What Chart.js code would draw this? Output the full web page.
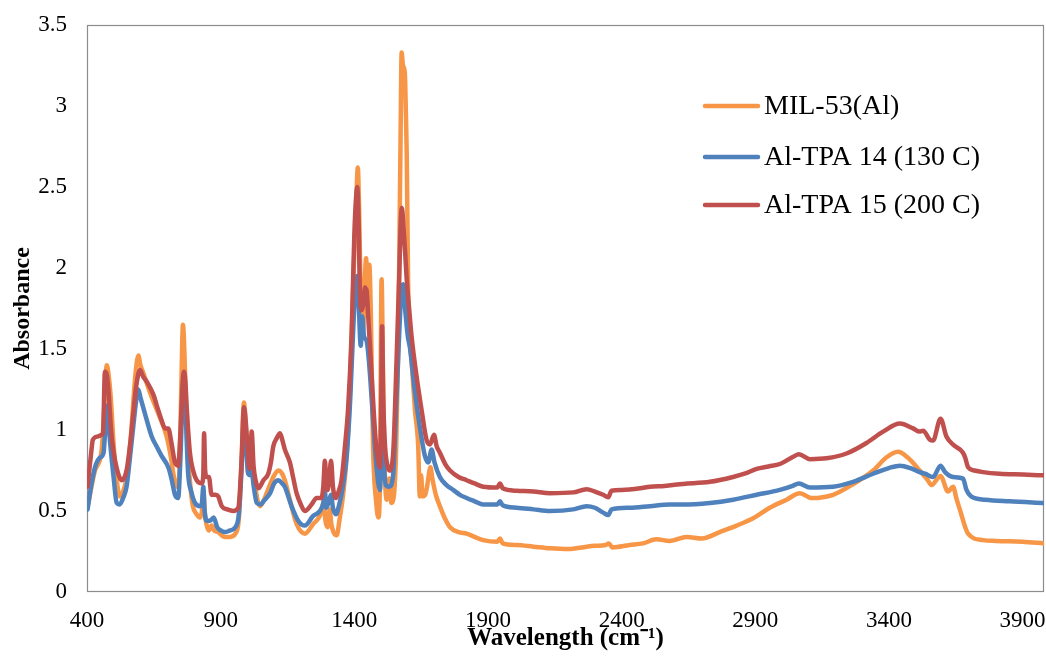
<!DOCTYPE html>
<html>
<head>
<meta charset="utf-8">
<script src="https://cdn.jsdelivr.net/npm/chart.js@4/dist/chart.umd.min.js"></script>
<style>
  html, body { margin: 0; padding: 0; background: #ffffff; }
  canvas { display: block; }
</style>
</head>
<body>
<canvas id="ir" width="1046" height="657"></canvas>
<script>
// FTIR absorbance spectra (wavenumber in cm-1, absorbance)
const seriesLabels = ['MIL-53(Al)', 'Al-TPA 14 (130 C)', 'Al-TPA 15 (200 C)'];
const xTickValues = [400, 900, 1400, 1900, 2400, 2900, 3400, 3900];
const yTickValues = [0, 0.5, 1, 1.5, 2, 2.5, 3, 3.5];

const milWavenumber = [402,430,455,465,474,480,488,500,512,523,535,550,565,580,592,600,611,636,667,698,715,723,735,745,752,759,765,772,778,787,796,810,823,830,836,840,848,856,866,876,890,916,935,955,968,978,987,995,1003,1012,1018,1029,1047,1060,1072,1097,1116,1130,1140,1159,1184,1215,1246,1271,1280,1286,1291,1300,1308,1314,1322,1334,1345,1358,1372,1385,1398,1408,1413,1418,1425,1432,1440,1444,1449,1456,1462,1470,1482,1490,1496,1502,1507,1513,1521,1527,1531,1538,1544,1550,1556,1563,1568,1573,1577,1582,1589,1593,1596,1602,1614,1627,1639,1645,1650,1655,1665,1672,1685,1692,1705,1720,1740,1758,1790,1820,1850,1882,1935,1945,1955,2007,2070,2132,2200,2269,2300,2340,2352,2365,2430,2480,2530,2580,2643,2700,2767,2830,2892,2954,3017,3067,3110,3191,3260,3341,3390,3434,3470,3515,3545,3559,3593,3621,3640,3652,3665,3696,3752,3800,3900,3980];
const milAbsorbance = [0.52,0.75,0.88,1.15,1.40,1.35,1.22,0.90,0.68,0.59,0.62,0.72,0.98,1.32,1.46,1.40,1.35,1.23,1.10,0.96,0.82,0.73,0.65,0.72,1.20,1.65,1.45,1.05,0.84,0.65,0.53,0.48,0.46,0.50,0.62,0.50,0.41,0.38,0.41,0.38,0.37,0.34,0.34,0.36,0.45,0.80,1.17,1.00,0.73,0.85,0.80,0.65,0.53,0.56,0.61,0.71,0.75,0.73,0.69,0.57,0.42,0.36,0.42,0.47,0.52,0.56,0.45,0.40,0.51,0.42,0.37,0.35,0.45,0.60,0.85,1.30,2.00,2.45,2.62,2.35,1.75,1.60,1.95,2.06,1.90,2.02,1.70,0.90,0.55,0.46,0.70,1.93,1.40,0.80,0.57,0.68,0.70,0.55,0.56,0.63,0.85,1.40,2.04,2.80,3.33,3.25,3.20,2.95,2.71,1.80,1.43,1.12,0.90,0.59,0.72,0.59,0.60,0.65,0.77,0.70,0.60,0.53,0.45,0.40,0.37,0.36,0.34,0.32,0.31,0.33,0.30,0.29,0.28,0.27,0.265,0.28,0.285,0.29,0.30,0.275,0.29,0.30,0.325,0.315,0.34,0.33,0.37,0.41,0.455,0.52,0.57,0.61,0.58,0.60,0.66,0.75,0.83,0.865,0.83,0.75,0.69,0.66,0.716,0.62,0.65,0.58,0.51,0.36,0.32,0.315,0.31,0.30];

const tpa14Wavenumber = [402,415,430,449,462,468,474,480,486,500,511,522,535,548,560,573,583,592,600,617,642,660,679,704,716,729,741,750,757,763,768,778,790,804,823,830,835,840,848,860,874,887,900,916,935,955,968,978,987,995,1003,1012,1016,1023,1035,1050,1060,1085,1100,1116,1130,1140,1165,1190,1215,1246,1271,1284,1290,1295,1303,1313,1320,1331,1345,1358,1372,1385,1398,1406,1411,1416,1424,1430,1436,1446,1455,1465,1483,1496,1500,1504,1509,1518,1531,1545,1558,1568,1576,1583,1590,1600,1608,1627,1645,1664,1677,1689,1700,1720,1745,1770,1795,1820,1850,1882,1935,1945,1955,2007,2070,2132,2219,2269,2300,2331,2350,2362,2430,2506,2580,2630,2730,2817,2905,2992,3040,3063,3104,3191,3266,3341,3400,3441,3480,3515,3535,3565,3593,3610,3640,3677,3690,3707,3760,3850,3980];
const tpa14Absorbance = [0.51,0.65,0.77,0.83,0.86,1.00,1.15,1.05,0.93,0.70,0.55,0.54,0.58,0.65,0.82,1.02,1.17,1.25,1.20,1.10,0.96,0.90,0.84,0.77,0.70,0.60,0.58,0.85,1.20,1.30,1.15,0.74,0.62,0.55,0.53,0.55,0.65,0.50,0.44,0.44,0.46,0.40,0.38,0.37,0.38,0.40,0.48,0.75,1.05,0.90,0.73,0.72,0.75,0.66,0.55,0.54,0.56,0.61,0.67,0.69,0.67,0.65,0.53,0.44,0.41,0.47,0.50,0.55,0.62,0.52,0.55,0.60,0.52,0.48,0.55,0.66,0.85,1.20,1.70,1.90,1.95,1.80,1.52,1.70,1.58,1.55,1.42,1.19,0.77,0.63,0.80,1.10,0.85,0.66,0.65,0.72,1.20,1.60,1.85,1.90,1.75,1.58,1.51,1.23,1.02,0.84,0.80,0.88,0.80,0.71,0.66,0.63,0.60,0.58,0.56,0.54,0.54,0.56,0.535,0.52,0.51,0.50,0.51,0.53,0.52,0.49,0.475,0.51,0.52,0.53,0.54,0.54,0.55,0.57,0.60,0.63,0.655,0.67,0.645,0.65,0.68,0.73,0.765,0.78,0.765,0.74,0.73,0.71,0.78,0.74,0.71,0.70,0.63,0.59,0.57,0.56,0.55];

const tpa15Wavenumber = [402,415,422,440,455,460,467,474,480,490,498,515,530,548,562,573,585,598,610,623,648,665,679,692,704,716,729,741,750,758,763,768,773,785,797,810,829,835,838,842,848,856,866,880,891,904,925,947,966,978,987,994,1000,1008,1012,1016,1023,1032,1041,1060,1078,1088,1097,1110,1122,1132,1140,1159,1172,1184,1200,1215,1240,1259,1277,1284,1290,1295,1300,1306,1313,1320,1331,1341,1352,1365,1377,1390,1400,1406,1411,1416,1421,1428,1434,1440,1446,1452,1465,1475,1483,1496,1500,1504,1508,1515,1524,1531,1545,1558,1568,1573,1578,1584,1590,1596,1605,1614,1633,1652,1670,1683,1698,1708,1720,1740,1758,1790,1820,1850,1882,1935,1945,1955,2007,2070,2132,2219,2269,2300,2331,2350,2362,2400,2469,2506,2560,2630,2730,2817,2860,2905,2950,2992,3042,3063,3104,3166,3241,3316,3378,3441,3490,3515,3528,3553,3565,3593,3615,3640,3677,3685,3696,3720,3752,3814,3900,3980];
const tpa15Absorbance = [0.65,0.85,0.94,0.96,0.97,0.98,1.36,1.34,1.25,1.00,0.88,0.74,0.69,0.75,0.92,1.10,1.28,1.37,1.33,1.30,1.22,1.13,1.06,1.01,1.01,0.92,0.80,0.78,1.00,1.30,1.36,1.30,1.14,0.86,0.75,0.69,0.67,0.72,0.98,0.75,0.71,0.71,0.60,0.60,0.59,0.53,0.51,0.50,0.52,0.80,1.14,1.05,0.90,0.76,0.85,0.99,0.78,0.68,0.64,0.69,0.73,0.80,0.90,0.95,0.98,0.93,0.88,0.80,0.70,0.61,0.54,0.50,0.54,0.58,0.58,0.65,0.81,0.68,0.63,0.70,0.81,0.65,0.58,0.62,0.69,0.90,1.14,1.60,2.20,2.42,2.50,2.30,1.84,1.74,1.78,1.88,1.86,1.70,1.33,1.05,0.88,0.77,1.05,1.64,1.20,0.90,0.78,0.75,0.85,1.43,1.95,2.25,2.37,2.25,2.10,1.93,1.75,1.58,1.33,1.12,0.94,0.91,0.97,0.90,0.86,0.79,0.75,0.71,0.69,0.67,0.65,0.645,0.67,0.64,0.625,0.62,0.61,0.615,0.635,0.62,0.60,0.585,0.625,0.63,0.64,0.65,0.655,0.667,0.68,0.71,0.73,0.76,0.775,0.79,0.835,0.85,0.82,0.825,0.855,0.92,0.99,1.04,1.01,0.99,0.995,0.94,0.935,1.07,0.96,0.91,0.86,0.83,0.77,0.75,0.74,0.73,0.725,0.72];

const seriesColors = ['#F79646', '#4F81BD', '#C0504D'];

function toPoints(xs, ys) {
  return xs.map((x, i) => ({ x: x, y: ys[i] }));
}

const serif = '"Liberation Serif", "Times New Roman", serif';

// Plot frame drawn around the whole plotting area
const framePlugin = {
  id: 'plotFrame',
  beforeDatasetsDraw(chart) {
    const { ctx, chartArea: a } = chart;
    ctx.save();
    ctx.strokeStyle = '#8c8c8c';
    ctx.lineWidth = 1.2;
    ctx.strokeRect(Math.round(a.left) + 0.5, Math.round(a.top) + 0.5,
                   Math.round(a.right - a.left) - 1, Math.round(a.bottom - a.top) - 1);
    ctx.restore();
  }
};

// Legend placed inside the upper right of the plot
const insideLegend = {
  id: 'insideLegend',
  afterDatasetsDraw(chart) {
    const { ctx } = chart;
    const rows = [106, 157, 205];
    ctx.save();
    ctx.font = '28px ' + serif;
    ctx.textBaseline = 'middle';
    ctx.textAlign = 'left';
    chart.data.datasets.forEach((ds, i) => {
      const y = rows[i];
      ctx.strokeStyle = ds.borderColor;
      ctx.lineWidth = 4.5;
      ctx.lineCap = 'round';
      ctx.beginPath();
      ctx.moveTo(705, y);
      ctx.lineTo(758, y);
      ctx.stroke();
      ctx.fillStyle = '#000000';
      ctx.fillText(ds.label, 764, y + 1);
    });
    ctx.restore();
  }
};

const datasetDefs = [
  { xs: milWavenumber, ys: milAbsorbance, order: 3 },
  { xs: tpa14Wavenumber, ys: tpa14Absorbance, order: 2 },
  { xs: tpa15Wavenumber, ys: tpa15Absorbance, order: 1 }
];

new Chart(document.getElementById('ir'), {
  type: 'line',
  data: {
    datasets: datasetDefs.map((d, i) => ({
      label: seriesLabels[i],
      data: toPoints(d.xs, d.ys),
      borderColor: seriesColors[i],
      backgroundColor: seriesColors[i],
      borderWidth: 4.5,
      pointRadius: 0,
      fill: false,
      cubicInterpolationMode: 'monotone',
      borderJoinStyle: 'round',
      borderCapStyle: 'round',
      order: d.order
    }))
  },
  options: {
    responsive: false,
    animation: false,
    devicePixelRatio: 1,
    parsing: false,
    normalized: true,
    layout: { padding: { top: 25, right: 2, left: 0, bottom: 0 } },
    plugins: {
      legend: { display: false },
      tooltip: { enabled: false }
    },
    scales: {
      x: {
        type: 'linear',
        min: 400,
        max: 3980,
        grid: { display: false, drawTicks: false },
        border: { display: false },
        ticks: {
          color: '#000000',
          font: { family: serif, size: 23 },
          padding: 15,
          maxRotation: 0,
          autoSkip: false,
          callback: v => String(v)
        },
        afterBuildTicks(scale) {
          scale.ticks = xTickValues.map(v => ({ value: v }));
        },
        afterFit(scale) {
          scale.height = 65;
          scale.paddingLeft = 0;
          scale.paddingRight = 0;
        },
        title: {
          display: true,
          text: 'Wavelength (cm\u207B\u00B9)',
          color: '#000000',
          font: { family: serif, size: 25, weight: 'bold' },
          padding: { top: 0, bottom: 3 }
        }
      },
      y: {
        type: 'linear',
        min: 0,
        max: 3.5,
        grid: { display: false, drawTicks: false },
        border: { display: false },
        ticks: {
          color: '#000000',
          font: { family: serif, size: 23 },
          padding: 20,
          callback: v => String(v)
        },
        afterBuildTicks(scale) {
          scale.ticks = yTickValues.map(v => ({ value: v }));
        },
        afterFit(scale) {
          scale.width = 87;
          scale.paddingTop = 0;
          scale.paddingBottom = 0;
        },
        title: {
          display: true,
          text: 'Absorbance',
          color: '#000000',
          font: { family: serif, size: 24, weight: 'bold' },
          padding: { top: 8, bottom: 0 }
        }
      }
    }
  },
  plugins: [framePlugin, insideLegend]
});
</script>
</body>
</html>
